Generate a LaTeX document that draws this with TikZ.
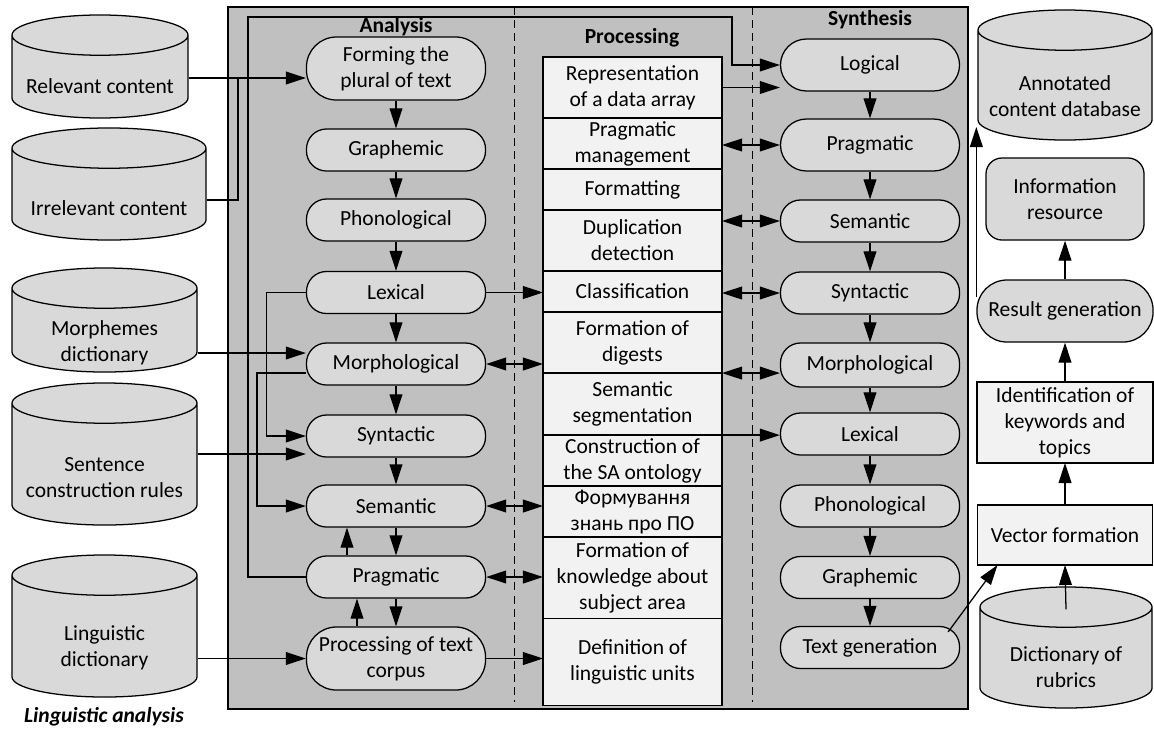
\documentclass[tikz,border=0pt]{standalone}
\usepackage{fontspec}
\setmainfont{Carlito}
\usetikzlibrary{shapes.geometric,arrows.meta,positioning}

\definecolor{framegray}{HTML}{C0C0C0}
\definecolor{pillgray}{HTML}{D9D9D9}
\definecolor{boxwhite}{HTML}{F2F2F2}
\newcommand\diagfont{\fontsize{15.3pt}{18.5pt}\selectfont}

\tikzset{
  pill/.style={draw, fill=pillgray, rounded corners=0.5cm, minimum width=4.475cm, minimum height=1.05cm, inner sep=1pt, align=center},
  bigpill/.style={pill, rounded corners=0.75cm, minimum height=1.575cm},
  procbox/.style={draw, fill=boxwhite, minimum width=4.475cm, inner sep=0pt, outer sep=0pt, align=center},
  dbase/.style={draw, fill=pillgray, cylinder, shape border rotate=90, aspect=0.26, text width=3.8cm, inner sep=1pt, anchor=shape center},
  dbtext/.style={inner sep=0pt, align=center},
  arr/.style={-{Triangle[length=0.5cm,width=0.32cm]}},
  darr/.style={{Triangle[length=0.5cm,width=0.32cm]}-{Triangle[length=0.5cm,width=0.32cm]}},
  lbl/.style={font=\diagfont\bfseries, inner sep=0pt, anchor=base},
  colsep/.style={dash pattern=on 5.7pt off 3.6pt, line width=0.7pt}
}

\begin{document}
\begin{tikzpicture}[x=0.025cm, y=-0.025cm, font=\diagfont, line width=0.9pt]
  \useasboundingbox (0,0) rectangle (1154,731);

  % frame and columns
  \draw[fill=framegray] (228,7) rectangle (968,709);
  \draw[colsep] (514,7) -- (514,702);
  \draw[colsep] (752,7) -- (752,702);

  \node[lbl] (anlab) at (396,32) {Analysis};
  \node[lbl] (prlab) at (632,43) {Processing};
  \node[lbl] (snlab) at (870,25) {Synthesis};

  % analysis
  \node[bigpill] (form) at (396,68.5) {Forming the\\plural of text};
  \node[pill] (graA) at (396,150) {Graphemic};
  \node[pill] (phoA) at (396,220) {Phonological};
  \node[pill] (lexA) at (396,292.5) {Lexical};
  \node[pill] (morA) at (396,364) {Morphological};
  \node[pill] (synA) at (396,436) {Syntactic};
  \node[pill] (semA) at (396,506) {Semantic};
  \node[pill] (praA) at (396,577) {Pragmatic};
  \node[bigpill] (procA) at (396,658.5) {Processing of text\\corpus};

  % processing
  \node[procbox, minimum height=1.525cm] (repP) at (632.5,87.5) {Representation\\of a data array};
  \node[procbox, minimum height=1.275cm, below=0pt of repP] (pmgP) {Pragmatic\\management};
  \node[procbox, minimum height=1.025cm, below=0pt of pmgP] (fmtP) {Formatting};
  \node[procbox, minimum height=1.525cm, below=0pt of fmtP] (dupP) {Duplication\\detection};
  \node[procbox, minimum height=1.025cm, below=0pt of dupP] (clsP) {Classification};
  \node[procbox, minimum height=1.525cm, below=0pt of clsP] (digP) {Formation of\\digests};
  \node[procbox, minimum height=1.55cm, below=0pt of digP] (segP) {Semantic\\segmentation};
  \node[procbox, minimum height=1.275cm, below=0pt of segP] (ontP) {Construction of\\the SA ontology};
  \node[procbox, minimum height=1.275cm, below=0pt of ontP] (frmP) {Формування\\знань про ПО};
  \node[procbox, minimum height=2.025cm, below=0pt of frmP] (knwP) {Formation of\\knowledge about\\subject area};
  \node[procbox, minimum height=2.175cm, below=0pt of knwP] (defP) {Definition of\\linguistic units};

  % synthesis
  \node[pill, minimum height=1.3cm, rounded corners=0.65cm] (logS) at (870,65) {Logical};
  \node[pill, minimum height=1.3cm, rounded corners=0.65cm] (prgS) at (870,145) {Pragmatic};
  \node[pill] (semS) at (870,221) {Semantic};
  \node[pill] (synS) at (870,293) {Syntactic};
  \node[pill, minimum height=1.1cm] (morS) at (870,365) {Morphological};
  \node[pill] (lexS) at (870,434) {Lexical};
  \node[pill] (phoS) at (870,506) {Phonological};
  \node[pill] (graS) at (870,577.5) {Graphemic};
  \node[pill] (txtS) at (870,647.5) {Text generation};

  % sources
  \node[dbase, minimum width=4.4cm, minimum height=2.575cm] (relc) at (100,66.5) {};
  \node[dbtext] (relt) at (100,86.5) {Relevant content};
  \node[dbase, minimum width=4.85cm, minimum height=2.8cm] (irrc) at (109,184) {};
  \node[dbtext] (irrt) at (109,208.5) {Irrelevant content};
  \node[dbase, minimum width=4.625cm, minimum height=2.6cm] (morc) at (104.5,320) {};
  \node[dbtext] (mort) at (104.5,342.5) {Morphemes\\dictionary};
  \node[dbase, minimum width=4.625cm, minimum height=3.55cm] (senc) at (104.5,454) {};
  \node[dbtext] (sent) at (104.5,478) {Sentence\\construction rules};
  \node[dbase, minimum width=4.625cm, minimum height=3.55cm] (lingc) at (104.5,626) {};
  \node[dbtext] (lingt) at (104.5,647.5) {Linguistic\\dictionary};
  \node[font=\diagfont\bfseries\itshape, inner sep=0pt, anchor=base] (capt) at (104,722) {Linguistic analysis};

  % output side
  \node[dbase, minimum width=4.35cm, minimum height=3.25cm] (annc) at (1065,75) {};
  \node[dbtext] (annt) at (1065,96.5) {Annotated\\content database};
  \node[draw, fill=pillgray, rounded corners=0.4cm, minimum width=3.95cm, minimum height=2.05cm, align=center] (infor) at (1065,199) {Information\\resource};
  \node[pill, minimum width=4.4cm, minimum height=1.55cm, rounded corners=0.75cm] (resg) at (1065,311) {Result generation};
  \node[procbox, minimum width=4.4cm, minimum height=2.025cm] (idkt) at (1065,422.5) {Identification of\\keywords and\\topics};
  \node[procbox, minimum width=4.375cm, minimum height=1.5cm] (vecf) at (1065,535) {Vector formation};
  \node[dbase, minimum width=4.3cm, minimum height=3.025cm] (dicc) at (1066,647.5) {};
  \node[dbtext] (dict) at (1066,667) {Dictionary of\\rubrics};

  % inputs into analysis
  \coordinate (hRel) at (238,78);
  \coordinate (hIrr) at (238,200);
  \coordinate (hMor) at (0,353);
  \coordinate (hSen) at (0,454);
  \coordinate (hMorL) at (257,373);
  \coordinate (hTopL) at (248,17);
  \coordinate (hTopR) at (732,17);
  \draw[arr] (relc.east |- hRel) -- (form.west |- hRel);
  \draw (irrc.east |- hIrr) -- (hIrr) -- (hRel);
  \draw[arr] (morc.east |- hMor) -- (morA.west |- hMor);
  \draw[arr] (senc.east |- hSen) -- (synA.west |- hSen);
  \draw[arr] (lingc.east |- procA.west) -- (procA.west);
  \draw[arr] (lexA.west) -- ++(-39,0) |- (synA.west);
  \draw[arr] (morA.west |- hMorL) -- (hMorL) |- (semA.west);
  \draw[arr] (praA.west) -| (hTopL) -- (hTopR) |- (logS.west);

  % inside the columns
  \foreach \a/\b in {form/graA, graA/phoA, phoA/lexA, lexA/morA, morA/synA, synA/semA, semA/praA, praA/procA}
    \draw[arr] (\a) -- (\b);
  \draw[arr] ([xshift=-1.225cm]praA.north) -- ([xshift=-1.225cm]semA.south);
  \draw[arr] ([xshift=-0.975cm]procA.north) -- ([xshift=-0.975cm]praA.south);
  \foreach \a/\b in {logS/prgS, prgS/semS, semS/synS, synS/morS, morS/lexS, lexS/phoS, phoS/graS, graS/txtS}
    \draw[arr] (\a) -- (\b);

  % between the columns
  \draw[arr] (lexA.east) -- (lexA.east -| clsP.west);
  \draw[darr] (morA.east) -- (morA.east -| digP.west);
  \draw[darr] (semA.east) -- (semA.east -| frmP.west);
  \draw[darr] (praA.east) -- (praA.east -| knwP.west);
  \draw[arr] (procA.east) -- (procA.east -| defP.west);
  \draw[arr] (repP.east) -- (repP.east -| logS.west);
  \draw[darr] (prgS.west -| pmgP.east) -- (prgS.west);
  \draw[darr] (semS.west -| dupP.east) -- (semS.west);
  \draw[darr] (synS.west -| clsP.east) -- (synS.west);
  \draw[darr] (digP.south east) -- (digP.south east -| morS.west);
  \draw[arr] (segP.south east) -- (segP.south east -| lexS.west);

  % output chain
  \coordinate (annIn) at (978,127);
  \draw[arr] ([xshift=-0.3cm,yshift=0.39cm]txtS.east) -- ([xshift=0.5cm]vecf.south west);
  \draw[arr] ([yshift=-0.575cm]dicc.north) -- (vecf.south);
  \draw[arr] (vecf) -- (idkt);
  \draw[arr] (idkt) -- (resg);
  \draw[arr] (resg) -- (infor);
  \draw[arr] ([yshift=0.35cm]resg.west) -- (resg.west |- annIn);
\end{tikzpicture}
\end{document}
